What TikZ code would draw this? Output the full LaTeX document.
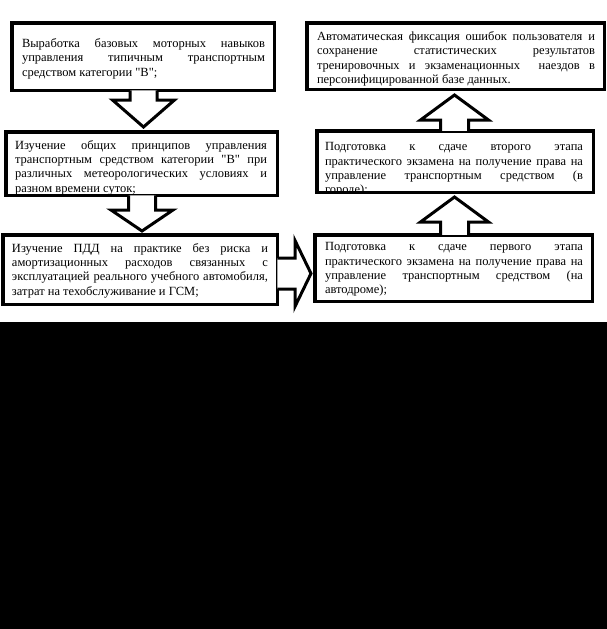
\documentclass[tikz,border=0pt]{standalone}
\usepackage{fontspec}
\setmainfont{Liberation Serif}[Ligatures=TeXOff]
\usetikzlibrary{calc}
\tolerance=10000
\hbadness=10000
\begin{document}
\begin{tikzpicture}[x=1pt,y=-1pt,
  box/.style={draw=black, line width=3.5pt, fill=white, rectangle, inner sep=0pt, outer sep=0pt},
  txt/.style={align=justify, inner sep=0pt, font=\fontsize{12.5}{14.4}\selectfont},
  barrow/.style={draw=black, line width=3pt, fill=white, line join=miter, miter limit=10}]
\useasboundingbox (0,0) rectangle (607,629);
\fill[black] (0,322) rectangle (607,629);
% boxes
\node[box, minimum width=262.5pt, minimum height=67.5pt] (b1) at (143,56.5) {};
\node[box, minimum width=271.5pt, minimum height=63.5pt] (b2) at (141.5,163.5) {};
\node[box, minimum width=274.5pt, minimum height=69.5pt] (b3) at (140,269.5) {};
\node[box, minimum width=277.5pt, minimum height=66.5pt] (b4) at (453.5,268) {};
\node[box, minimum width=276.5pt, minimum height=61.5pt] (b5) at (455,161.5) {};
\node[box, minimum width=297.5pt, minimum height=66.5pt] (b6) at (455.5,56) {};
% texts
\node[txt, text width=243pt] (t1) at (143.5,58.5) {Выработка базовых моторных навыков\linebreak управления типичным транспортным\linebreak средством категории "В";};
\node[txt, text width=252pt] (t2) at (141,167.5) {Изучение общих принципов управления\linebreak транспортным средством категории "В" при\linebreak различных метеорологических условиях и\linebreak разном времени суток;};
\node[txt, text width=256pt] (t3) at (140,270.5) {Изучение ПДД на практике без риска и\linebreak амортизационных расходов связанных с\linebreak эксплуатацией реального учебного автомобиля,\linebreak затрат на техобслуживание и ГСМ;};
\node[txt, text width=258pt] (t4) at (454,269.5) {Подготовка к сдаче первого этапа\linebreak практического экзамена на получение права на\linebreak управление транспортным средством (на\linebreak автодроме);};
\begin{scope}
\clip (b5.north west) rectangle (b5.south east);
\node[txt, text width=258pt] (t5) at (454,169.5) {Подготовка к сдаче второго этапа\linebreak практического экзамена на получение права на\linebreak управление транспортным средством (в\linebreak городе);};
\end{scope}
\draw[line width=3.5pt] (b5.north west) rectangle (b5.south east);
\node[txt, text width=278pt] (t6) at (456,59) {Автоматическая фиксация ошибок пользователя и\linebreak сохранение статистических результатов\linebreak тренировочных и экзаменационных \ наездов в\linebreak персонифицированной базе данных.};
% block arrows
\draw[barrow] ($(b1.south)+(-13,0)$) -- ++(0,9.75) -- ++(-17.5,0) -- ++(31,27) -- ++(31,-27) -- ++(-17.5,0) -- ++(0,-9.75);
\draw[barrow] ($(b2.south)+(-13,0)$) -- ++(0,14.75) -- ++(-17.5,0) -- ++(31,21) -- ++(31,-21) -- ++(-17.5,0) -- ++(0,-14.75);
\draw[barrow] ($(b5.north)+(-14.5,0)$) -- ++(0,-10.75) -- ++(-20,0) -- ++(34,-25) -- ++(34,25) -- ++(-20,0) -- ++(0,10.75);
\draw[barrow] ($(b4.north)+(-13,0)$) -- ++(0,-12.75) -- ++(-20,0) -- ++(34,-25) -- ++(34,25) -- ++(-20,0) -- ++(0,12.75);
\draw[barrow] ($(b3.east)+(0,-11.5)$) -- ++(17.75,0) -- ++(0,-17.5) -- ++(16,33) -- ++(-16,33) -- ++(0,-17.5) -- ++(-17.75,0);
\end{tikzpicture}
\end{document}
